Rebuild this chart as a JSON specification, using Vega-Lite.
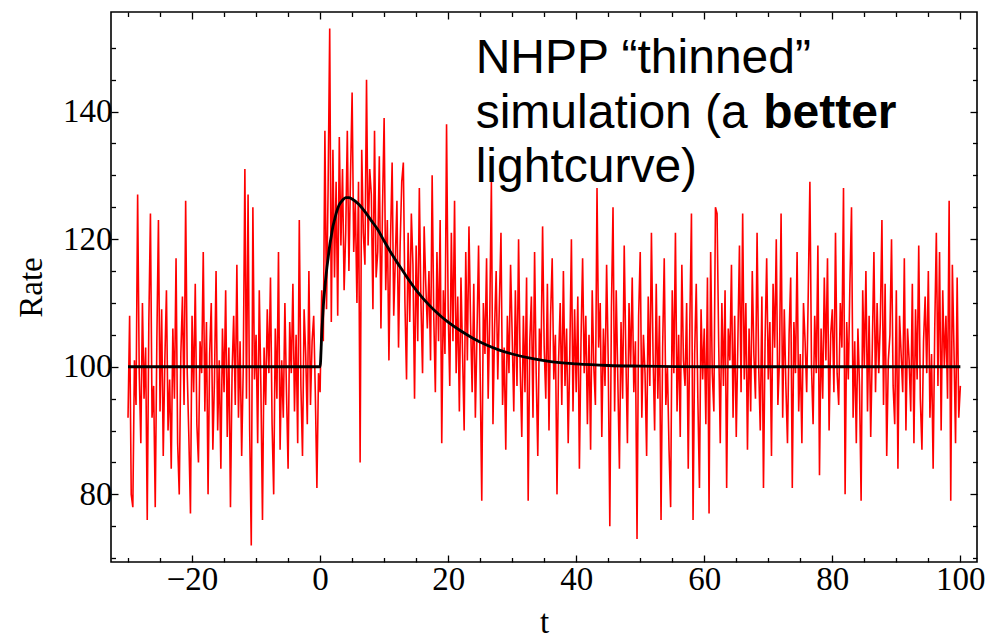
{
"$schema": "https://vega.github.io/schema/vega-lite/v6.json",
"width": 866, "height": 550,
"autosize": {"type": "none"},
"padding": {"left": 111, "top": 12, "right": 8, "bottom": 78},
"background": "white",
"config": {
 "view": {"stroke": "#000", "strokeWidth": 1.6},
 "axis": {"domain": false, "grid": false, "labelFont": "Liberation Serif", "labelFontSize": 33, "labelColor": "#000",
  "titleFont": "Liberation Serif", "titleFontSize": 33, "titleFontWeight": "normal", "titleColor": "#000",
  "tickColor": "#000", "tickWidth": 1.3, "labelOverlap": false, "labelFlush": false, "labelBound": false}
},
"datasets": {
"sim": [
{"t":-30,"r":92},{"t":-29.75,"r":108},{"t":-29.5,"r":80},{"t":-29.25,"r":78},
{"t":-29,"r":101},{"t":-28.75,"r":94},{"t":-28.5,"r":127},{"t":-28.25,"r":99},
{"t":-28,"r":88},{"t":-27.75,"r":110},{"t":-27.5,"r":95},{"t":-27.25,"r":103},
{"t":-27,"r":76},{"t":-26.75,"r":107},{"t":-26.5,"r":124},{"t":-26.25,"r":92},
{"t":-26,"r":97},{"t":-25.75,"r":78},{"t":-25.5,"r":104},{"t":-25.25,"r":123},
{"t":-25,"r":93},{"t":-24.75,"r":109},{"t":-24.5,"r":86},{"t":-24.25,"r":101},
{"t":-24,"r":112},{"t":-23.75,"r":90},{"t":-23.5,"r":98},{"t":-23.25,"r":84},
{"t":-23,"r":106},{"t":-22.75,"r":95},{"t":-22.5,"r":117},{"t":-22.25,"r":88},
{"t":-22,"r":80},{"t":-21.75,"r":102},{"t":-21.5,"r":111},{"t":-21.25,"r":94},
{"t":-21,"r":126},{"t":-20.75,"r":99},{"t":-20.5,"r":89},{"t":-20.25,"r":77},
{"t":-20,"r":108},{"t":-19.75,"r":96},{"t":-19.5,"r":113},{"t":-19.25,"r":91},
{"t":-19,"r":85},{"t":-18.75,"r":104},{"t":-18.5,"r":99},{"t":-18.25,"r":118},
{"t":-18,"r":93},{"t":-17.75,"r":107},{"t":-17.5,"r":80},{"t":-17.25,"r":102},
{"t":-17,"r":110},{"t":-16.75,"r":87},{"t":-16.5,"r":98},{"t":-16.25,"r":115},
{"t":-16,"r":90},{"t":-15.75,"r":101},{"t":-15.5,"r":84},{"t":-15.25,"r":106},
{"t":-15,"r":96},{"t":-14.75,"r":112},{"t":-14.5,"r":89},{"t":-14.25,"r":103},
{"t":-14,"r":78},{"t":-13.75,"r":99},{"t":-13.5,"r":108},{"t":-13.25,"r":94},
{"t":-13,"r":116},{"t":-12.75,"r":92},{"t":-12.5,"r":104},{"t":-12.25,"r":86},
{"t":-12,"r":100},{"t":-11.75,"r":131},{"t":-11.5,"r":95},{"t":-11.25,"r":127},
{"t":-11,"r":90},{"t":-10.75,"r":72},{"t":-10.5,"r":125},{"t":-10.25,"r":98},
{"t":-10,"r":105},{"t":-9.75,"r":88},{"t":-9.5,"r":112},{"t":-9.25,"r":97},
{"t":-9,"r":76},{"t":-8.75,"r":103},{"t":-8.5,"r":94},{"t":-8.25,"r":109},
{"t":-8,"r":99},{"t":-7.75,"r":114},{"t":-7.5,"r":91},{"t":-7.25,"r":80},
{"t":-7,"r":106},{"t":-6.75,"r":95},{"t":-6.5,"r":118},{"t":-6.25,"r":87},
{"t":-6,"r":101},{"t":-5.75,"r":92},{"t":-5.5,"r":110},{"t":-5.25,"r":96},
{"t":-5,"r":84},{"t":-4.75,"r":107},{"t":-4.5,"r":99},{"t":-4.25,"r":113},
{"t":-4,"r":93},{"t":-3.75,"r":105},{"t":-3.5,"r":88},{"t":-3.25,"r":123},
{"t":-3,"r":97},{"t":-2.75,"r":86},{"t":-2.5,"r":109},{"t":-2.25,"r":102},
{"t":-2,"r":91},{"t":-1.75,"r":115},{"t":-1.5,"r":94},{"t":-1.25,"r":104},
{"t":-1,"r":108},{"t":-0.75,"r":96},{"t":-0.5,"r":81},{"t":-0.25,"r":99},
{"t":0,"r":96},{"t":0.25,"r":112},{"t":0.5,"r":104},{"t":0.75,"r":137},
{"t":1,"r":109},{"t":1.25,"r":128},{"t":1.5,"r":153},{"t":1.75,"r":107},
{"t":2,"r":134},{"t":2.25,"r":114},{"t":2.5,"r":129},{"t":2.75,"r":108},
{"t":3,"r":136},{"t":3.25,"r":119},{"t":3.5,"r":131},{"t":3.75,"r":112},
{"t":4,"r":121},{"t":4.25,"r":137},{"t":4.5,"r":115},{"t":4.75,"r":130},
{"t":5,"r":143},{"t":5.25,"r":118},{"t":5.5,"r":126},{"t":5.75,"r":110},
{"t":6,"r":129},{"t":6.25,"r":85},{"t":6.5,"r":134},{"t":6.75,"r":121},
{"t":7,"r":116},{"t":7.25,"r":145},{"t":7.5,"r":119},{"t":7.75,"r":131},
{"t":8,"r":127},{"t":8.25,"r":109},{"t":8.5,"r":137},{"t":8.75,"r":114},
{"t":9,"r":118},{"t":9.25,"r":133},{"t":9.5,"r":106},{"t":9.75,"r":125},
{"t":10,"r":139},{"t":10.25,"r":112},{"t":10.5,"r":123},{"t":10.75,"r":101},
{"t":11,"r":120},{"t":11.25,"r":132},{"t":11.5,"r":108},{"t":11.75,"r":117},
{"t":12,"r":126},{"t":12.25,"r":103},{"t":12.5,"r":119},{"t":12.75,"r":129},
{"t":13,"r":132},{"t":13.25,"r":110},{"t":13.5,"r":98},{"t":13.75,"r":121},
{"t":14,"r":107},{"t":14.25,"r":124},{"t":14.5,"r":116},{"t":14.75,"r":95},
{"t":15,"r":119},{"t":15.25,"r":104},{"t":15.5,"r":128},{"t":15.75,"r":110},
{"t":16,"r":99},{"t":16.25,"r":122},{"t":16.5,"r":113},{"t":16.75,"r":106},
{"t":17,"r":115},{"t":17.25,"r":101},{"t":17.5,"r":130},{"t":17.75,"r":108},
{"t":18,"r":96},{"t":18.25,"r":118},{"t":18.5,"r":104},{"t":18.75,"r":123},
{"t":19,"r":88},{"t":19.25,"r":112},{"t":19.5,"r":102},{"t":19.75,"r":138},
{"t":20,"r":109},{"t":20.25,"r":97},{"t":20.5,"r":121},{"t":20.75,"r":104},
{"t":21,"r":126},{"t":21.25,"r":99},{"t":21.5,"r":111},{"t":21.75,"r":93},
{"t":22,"r":114},{"t":22.25,"r":102},{"t":22.5,"r":90},{"t":22.75,"r":118},
{"t":23,"r":101},{"t":23.25,"r":122},{"t":23.5,"r":107},{"t":23.75,"r":96},
{"t":24,"r":113},{"t":24.25,"r":92},{"t":24.5,"r":105},{"t":24.75,"r":119},
{"t":25,"r":99},{"t":25.25,"r":79},{"t":25.5,"r":110},{"t":25.75,"r":102},
{"t":26,"r":117},{"t":26.25,"r":95},{"t":26.5,"r":108},{"t":26.75,"r":129},
{"t":27,"r":91},{"t":27.25,"r":106},{"t":27.5,"r":115},{"t":27.75,"r":98},
{"t":28,"r":110},{"t":28.25,"r":121},{"t":28.5,"r":94},{"t":28.75,"r":103},
{"t":29,"r":87},{"t":29.25,"r":108},{"t":29.5,"r":99},{"t":29.75,"r":116},
{"t":30,"r":105},{"t":30.25,"r":93},{"t":30.5,"r":112},{"t":30.75,"r":97},
{"t":31,"r":120},{"t":31.25,"r":100},{"t":31.5,"r":89},{"t":31.75,"r":108},
{"t":32,"r":96},{"t":32.25,"r":114},{"t":32.5,"r":79},{"t":32.75,"r":104},
{"t":33,"r":111},{"t":33.25,"r":92},{"t":33.5,"r":118},{"t":33.75,"r":99},
{"t":34,"r":86},{"t":34.25,"r":106},{"t":34.5,"r":101},{"t":34.75,"r":122},
{"t":35,"r":103},{"t":35.25,"r":95},{"t":35.5,"r":113},{"t":35.75,"r":90},
{"t":36,"r":108},{"t":36.25,"r":117},{"t":36.5,"r":98},{"t":36.75,"r":105},
{"t":37,"r":80},{"t":37.25,"r":101},{"t":37.5,"r":110},{"t":37.75,"r":94},
{"t":38,"r":115},{"t":38.25,"r":97},{"t":38.5,"r":106},{"t":38.75,"r":88},
{"t":39,"r":102},{"t":39.25,"r":120},{"t":39.5,"r":93},{"t":39.75,"r":109},
{"t":40,"r":96},{"t":40.25,"r":111},{"t":40.5,"r":84},{"t":40.75,"r":104},
{"t":41,"r":117},{"t":41.25,"r":99},{"t":41.5,"r":108},{"t":41.75,"r":91},
{"t":42,"r":105},{"t":42.25,"r":87},{"t":42.5,"r":112},{"t":42.75,"r":100},
{"t":43,"r":94},{"t":43.25,"r":128},{"t":43.5,"r":103},{"t":43.75,"r":110},
{"t":44,"r":89},{"t":44.25,"r":106},{"t":44.5,"r":97},{"t":44.75,"r":116},
{"t":45,"r":101},{"t":45.25,"r":75},{"t":45.5,"r":109},{"t":45.75,"r":125},
{"t":46,"r":93},{"t":46.25,"r":112},{"t":46.5,"r":98},{"t":46.75,"r":84},
{"t":47,"r":107},{"t":47.25,"r":95},{"t":47.5,"r":119},{"t":47.75,"r":102},
{"t":48,"r":88},{"t":48.25,"r":110},{"t":48.5,"r":100},{"t":48.75,"r":114},
{"t":49,"r":96},{"t":49.25,"r":104},{"t":49.5,"r":73},{"t":49.75,"r":108},
{"t":50,"r":118},{"t":50.25,"r":92},{"t":50.5,"r":105},{"t":50.75,"r":99},
{"t":51,"r":86},{"t":51.25,"r":111},{"t":51.5,"r":97},{"t":51.75,"r":121},
{"t":52,"r":102},{"t":52.25,"r":90},{"t":52.5,"r":113},{"t":52.75,"r":95},
{"t":53,"r":108},{"t":53.25,"r":76},{"t":53.5,"r":103},{"t":53.75,"r":117},
{"t":54,"r":94},{"t":54.25,"r":100},{"t":54.5,"r":87},{"t":54.75,"r":78},
{"t":55,"r":112},{"t":55.25,"r":99},{"t":55.5,"r":121},{"t":55.75,"r":93},
{"t":56,"r":105},{"t":56.25,"r":89},{"t":56.5,"r":116},{"t":56.75,"r":101},
{"t":57,"r":97},{"t":57.25,"r":110},{"t":57.5,"r":84},{"t":57.75,"r":107},
{"t":58,"r":124},{"t":58.25,"r":76},{"t":58.5,"r":102},{"t":58.75,"r":113},
{"t":59,"r":95},{"t":59.25,"r":81},{"t":59.5,"r":109},{"t":59.75,"r":98},
{"t":60,"r":106},{"t":60.25,"r":91},{"t":60.5,"r":114},{"t":60.75,"r":77},
{"t":61,"r":118},{"t":61.25,"r":99},{"t":61.5,"r":93},{"t":61.75,"r":125},
{"t":62,"r":124},{"t":62.25,"r":104},{"t":62.5,"r":88},{"t":62.75,"r":110},
{"t":63,"r":97},{"t":63.25,"r":112},{"t":63.5,"r":81},{"t":63.75,"r":106},
{"t":64,"r":101},{"t":64.25,"r":116},{"t":64.5,"r":92},{"t":64.75,"r":108},
{"t":65,"r":89},{"t":65.25,"r":104},{"t":65.5,"r":119},{"t":65.75,"r":96},
{"t":66,"r":124},{"t":66.25,"r":98},{"t":66.5,"r":110},{"t":66.75,"r":87},
{"t":67,"r":106},{"t":67.25,"r":93},{"t":67.5,"r":115},{"t":67.75,"r":102},
{"t":68,"r":95},{"t":68.25,"r":121},{"t":68.5,"r":100},{"t":68.75,"r":90},
{"t":69,"r":111},{"t":69.25,"r":81},{"t":69.5,"r":104},{"t":69.75,"r":117},
{"t":70,"r":98},{"t":70.25,"r":107},{"t":70.5,"r":86},{"t":70.75,"r":113},
{"t":71,"r":103},{"t":71.25,"r":120},{"t":71.5,"r":94},{"t":71.75,"r":101},
{"t":72,"r":124},{"t":72.25,"r":92},{"t":72.5,"r":109},{"t":72.75,"r":97},
{"t":73,"r":88},{"t":73.25,"r":105},{"t":73.5,"r":114},{"t":73.75,"r":81},
{"t":74,"r":107},{"t":74.25,"r":99},{"t":74.5,"r":118},{"t":74.75,"r":93},
{"t":75,"r":102},{"t":75.25,"r":88},{"t":75.5,"r":110},{"t":75.75,"r":104},
{"t":76,"r":96},{"t":76.25,"r":112},{"t":76.5,"r":129},{"t":76.75,"r":100},
{"t":77,"r":91},{"t":77.25,"r":108},{"t":77.5,"r":99},{"t":77.75,"r":119},
{"t":78,"r":83},{"t":78.25,"r":106},{"t":78.5,"r":95},{"t":78.75,"r":114},
{"t":79,"r":101},{"t":79.25,"r":117},{"t":79.5,"r":90},{"t":79.75,"r":105},
{"t":80,"r":109},{"t":80.25,"r":96},{"t":80.5,"r":121},{"t":80.75,"r":99},
{"t":81,"r":94},{"t":81.25,"r":110},{"t":81.5,"r":103},{"t":81.75,"r":128},
{"t":82,"r":80},{"t":82.25,"r":107},{"t":82.5,"r":98},{"t":82.75,"r":113},
{"t":83,"r":125},{"t":83.25,"r":92},{"t":83.5,"r":104},{"t":83.75,"r":88},
{"t":84,"r":106},{"t":84.25,"r":97},{"t":84.5,"r":79},{"t":84.75,"r":112},
{"t":85,"r":100},{"t":85.25,"r":115},{"t":85.5,"r":93},{"t":85.75,"r":108},
{"t":86,"r":89},{"t":86.25,"r":103},{"t":86.5,"r":118},{"t":86.75,"r":96},
{"t":87,"r":110},{"t":87.25,"r":99},{"t":87.5,"r":107},{"t":87.75,"r":123},
{"t":88,"r":94},{"t":88.25,"r":113},{"t":88.5,"r":86},{"t":88.75,"r":101},
{"t":89,"r":105},{"t":89.25,"r":120},{"t":89.5,"r":97},{"t":89.75,"r":91},
{"t":90,"r":112},{"t":90.25,"r":84},{"t":90.5,"r":108},{"t":90.75,"r":102},
{"t":91,"r":96},{"t":91.25,"r":117},{"t":91.5,"r":90},{"t":91.75,"r":106},
{"t":92,"r":101},{"t":92.25,"r":93},{"t":92.5,"r":113},{"t":92.75,"r":88},
{"t":93,"r":109},{"t":93.25,"r":98},{"t":93.5,"r":119},{"t":93.75,"r":95},
{"t":94,"r":87},{"t":94.25,"r":104},{"t":94.5,"r":111},{"t":94.75,"r":99},
{"t":95,"r":115},{"t":95.25,"r":92},{"t":95.5,"r":102},{"t":95.75,"r":84},
{"t":96,"r":106},{"t":96.25,"r":121},{"t":96.5,"r":97},{"t":96.75,"r":118},
{"t":97,"r":90},{"t":97.25,"r":112},{"t":97.5,"r":100},{"t":97.75,"r":108},
{"t":98,"r":95},{"t":98.25,"r":126},{"t":98.5,"r":79},{"t":98.75,"r":116},
{"t":99,"r":103},{"t":99.25,"r":88},{"t":99.5,"r":114},{"t":99.75,"r":92},
{"t":100,"r":97}
],
"curve": [
{"t":-30,"r":100},{"t":0,"r":100},{"t":0.25,"r":105},{"t":0.5,"r":109.5},{"t":0.75,"r":112.5},
{"t":1,"r":115},{"t":1.25,"r":117},{"t":1.5,"r":119},{"t":1.75,"r":120.5},{"t":2,"r":122},
{"t":2.25,"r":123},{"t":2.5,"r":124},{"t":2.75,"r":124.8},{"t":3,"r":125.4},{"t":3.5,"r":126.1},
{"t":4,"r":126.5},{"t":4.5,"r":126.5},{"t":5,"r":126.3},{"t":6,"r":125.5},{"t":7,"r":124.3},
{"t":8,"r":122.9},{"t":9,"r":121.5},{"t":10,"r":119.7},{"t":11,"r":118},{"t":12,"r":116.4},
{"t":13,"r":114.9},{"t":14,"r":113.4},{"t":15,"r":112},{"t":16,"r":110.8},{"t":17,"r":109.7},
{"t":18,"r":108.7},{"t":19,"r":107.8},{"t":20,"r":107},{"t":22,"r":105.6},{"t":24,"r":104.4},
{"t":26,"r":103.4},{"t":28,"r":102.6},{"t":30,"r":102},{"t":33,"r":101.3},{"t":36,"r":100.8},
{"t":40,"r":100.45},{"t":45,"r":100.2},{"t":50,"r":100.1},{"t":60,"r":100},{"t":100,"r":100}
],
"note": [
{"t":24.3,"r":146.0,"label":"NHPP “thinned”"},
{"t":24.3,"r":137.4,"label":"simulation (a"},
{"t":24.3,"r":128.9,"label":"lightcurve)"}
],
"noteb": [
{"t":69.2,"r":137.4,"label":"better"}
]
},
"layer": [
{
 "data": {"name": "sim"},
 "mark": {"type": "line", "color": "#ff0000", "strokeWidth": 1.6},
 "encoding": {
  "x": {"field": "t", "type": "quantitative",
   "scale": {"domain": [-32.66, 102.6], "nice": false, "zero": false},
   "axis": {"orient": "bottom", "title": "t", "titlePadding": 8,
    "values": [-30,-25,-20,-15,-10,-5,0,5,10,15,20,25,30,35,40,45,50,55,60,65,70,75,80,85,90,95,100],
    "labelExpr": "datum.value % 20 === 0 ? datum.label : ''",
    "tickSize": {"condition": {"test": "datum.value % 20 === 0", "value": -7}, "value": -4.5},
    "labelPadding": 8}},
  "y": {"field": "r", "type": "quantitative",
   "scale": {"domain": [69.4, 155.6], "nice": false, "zero": false},
   "axis": {"orient": "left", "title": "Rate", "titlePadding": 14,
    "values": [70,75,80,85,90,95,100,105,110,115,120,125,130,135,140,145,150],
    "labelExpr": "datum.value % 20 === 0 ? datum.label : ''",
    "tickSize": {"condition": {"test": "datum.value % 20 === 0", "value": -7}, "value": -4.5},
    "labelPadding": 6}}
 }
},
{
 "data": {"name": "curve"},
 "mark": {"type": "line", "color": "#000000", "strokeWidth": 2.8, "interpolate": "monotone"},
 "encoding": {
  "x": {"field": "t", "type": "quantitative",
   "scale": {"domain": [-32.66, 102.6], "nice": false, "zero": false},
   "axis": {"orient": "top", "title": null, "labels": false,
    "values": [-30,-25,-20,-15,-10,-5,0,5,10,15,20,25,30,35,40,45,50,55,60,65,70,75,80,85,90,95,100],
    "tickSize": {"condition": {"test": "datum.value % 20 === 0", "value": -7}, "value": -4.5}}},
  "y": {"field": "r", "type": "quantitative",
   "scale": {"domain": [69.4, 155.6], "nice": false, "zero": false},
   "axis": {"orient": "right", "title": null, "labels": false,
    "values": [70,75,80,85,90,95,100,105,110,115,120,125,130,135,140,145,150],
    "tickSize": {"condition": {"test": "datum.value % 20 === 0", "value": -7}, "value": -4.5}}}
 }
},
{
 "data": {"name": "note"},
 "mark": {"type": "text", "font": "Liberation Sans", "fontSize": 48, "align": "left", "baseline": "alphabetic", "color": "#000"},
 "encoding": {
  "x": {"field": "t", "type": "quantitative", "axis": null},
  "y": {"field": "r", "type": "quantitative", "axis": null},
  "text": {"field": "label"}
 }
},
{
 "data": {"name": "noteb"},
 "mark": {"type": "text", "font": "Liberation Sans", "fontSize": 48, "fontWeight": "bold", "align": "left", "baseline": "alphabetic", "color": "#000"},
 "encoding": {
  "x": {"field": "t", "type": "quantitative", "axis": null},
  "y": {"field": "r", "type": "quantitative", "axis": null},
  "text": {"field": "label"}
 }
}
],
"resolve": {"axis": {"x": "independent", "y": "independent"}}
}
